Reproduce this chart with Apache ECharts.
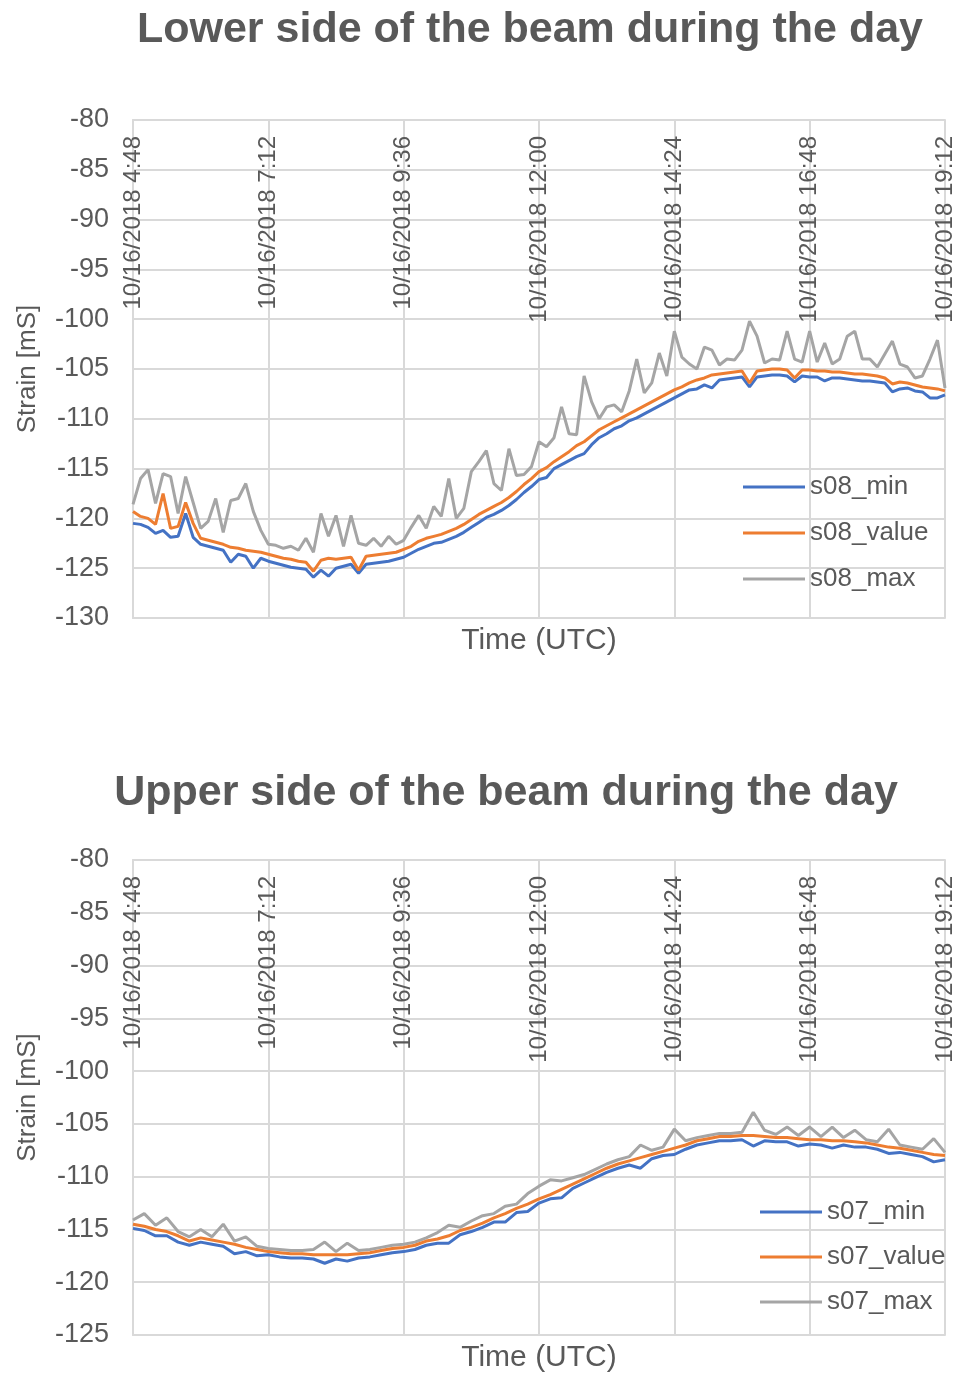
<!DOCTYPE html>
<html>
<head>
<meta charset="utf-8">
<script src="https://cdn.jsdelivr.net/npm/echarts@6/dist/echarts.min.js"></script>
<style>
  html, body { margin: 0; padding: 0; background: #ffffff; }
  #chart { width: 959px; height: 1374px; }
</style>
</head>
<body>
<div id="chart"></div>
<script>
// Strain readings on 10/16/2018, minutes after midnight (UTC)
const START_MIN = 288;   // 4:48
const END_MIN = 1152;    // 19:12
const TICK_STEP = 144;   // 2:24

// Lower side of the beam (sensor s08), 8-minute samples
const s08Step = 8;
const s08_min = [
  -120.5, -120.6, -120.9, -121.5, -121.2, -121.9, -121.8, -119.5, -121.9, -122.6,
  -122.8, -123.0, -123.2, -124.4, -123.6, -123.8, -125.0, -124.0, -124.3, -124.5,
  -124.7, -124.9, -125.0, -125.1, -125.9, -125.2, -125.8, -125.0, -124.8, -124.6,
  -125.5, -124.6, -124.5, -124.4, -124.3, -124.1, -123.9, -123.5, -123.1, -122.8,
  -122.5, -122.4, -122.1, -121.8, -121.4, -120.9, -120.4, -119.9, -119.6, -119.2,
  -118.7, -118.1, -117.4, -116.8, -116.1, -115.9, -115.0, -114.6, -114.2, -113.8,
  -113.5, -112.6, -111.9, -111.5, -111.0, -110.7, -110.2, -109.9, -109.5, -109.1,
  -108.7, -108.3, -107.9, -107.5, -107.1, -107.0, -106.6, -106.9, -106.1, -106.0,
  -105.9, -105.8, -106.8, -105.8, -105.7, -105.6, -105.6, -105.7, -106.3, -105.7,
  -105.8, -105.8, -106.2, -105.9, -105.9, -106.0, -106.1, -106.2, -106.2, -106.3,
  -106.4, -107.3, -107.0, -106.9, -107.2, -107.3, -107.9, -107.9, -107.6
];
const s08_value = [
  -119.3, -119.8, -120.0, -120.6, -117.5, -121.0, -120.8, -118.4, -120.5, -122.0,
  -122.2, -122.4, -122.6, -122.9, -123.0, -123.2, -123.3, -123.4, -123.6, -123.8,
  -124.0, -124.1, -124.3, -124.4, -125.3, -124.2, -124.0, -124.1, -124.0, -123.9,
  -125.2, -123.8, -123.7, -123.6, -123.5, -123.4, -123.1, -122.8, -122.3, -122.0,
  -121.8, -121.6, -121.3, -121.0, -120.6, -120.1, -119.6, -119.2, -118.8, -118.4,
  -117.9, -117.3, -116.6, -116.0, -115.3, -114.9, -114.3, -113.8, -113.3, -112.7,
  -112.3, -111.7, -111.1, -110.7, -110.3, -109.9, -109.5, -109.1, -108.7, -108.3,
  -107.9, -107.5, -107.1, -106.8, -106.4, -106.1, -105.9, -105.6, -105.5, -105.4,
  -105.3, -105.2, -106.4, -105.2, -105.1, -105.0, -105.0, -105.1, -105.9, -105.1,
  -105.1, -105.2, -105.2, -105.3, -105.3, -105.4, -105.5, -105.5, -105.6, -105.7,
  -105.9, -106.5, -106.3, -106.4, -106.6, -106.8, -106.9, -107.0, -107.2
];
const s08_max = [
  -118.6, -116.0, -115.1, -118.5, -115.5, -115.8, -119.5, -115.8, -118.4, -121.0,
  -120.3, -118.0, -121.4, -118.2, -118.0, -116.5, -119.3, -121.2, -122.6, -122.7,
  -123.0, -122.8, -123.2, -122.0, -123.4, -119.5, -121.8, -119.7, -122.8, -119.7,
  -122.5, -122.7, -122.0, -122.8, -121.8, -122.6, -122.2, -120.9, -119.7, -121.0,
  -118.8, -119.8, -116.0, -120.0, -119.0, -115.3, -114.3, -113.2, -116.5, -117.2,
  -113.0, -115.7, -115.6, -114.8, -112.3, -112.8, -111.9, -108.8, -111.5, -111.6,
  -105.7, -108.3, -110.0, -108.8, -108.6, -109.3, -107.2, -104.0, -107.4, -106.4,
  -103.4, -105.7, -101.2, -103.8, -104.5, -105.0, -102.8, -103.1, -104.6, -104.0,
  -104.1, -103.1, -100.2, -101.7, -104.4, -104.0, -104.1, -101.2, -104.0, -104.3,
  -101.2, -104.3, -102.4, -104.5, -104.0, -101.7, -101.2, -104.0, -104.0, -104.8,
  -103.5, -102.2, -104.5, -104.8, -105.9, -105.7, -104.0, -102.1, -106.9
];

// Upper side of the beam (sensor s07), 12-minute samples
const s07Step = 12;
const s07_min = [
  -114.9, -115.1, -115.6, -115.6, -116.2, -116.5, -116.2, -116.4, -116.6, -117.3,
  -117.1, -117.5, -117.4, -117.6, -117.7, -117.7, -117.8, -118.2, -117.8, -118.0,
  -117.7, -117.6, -117.4, -117.2, -117.1, -116.9, -116.5, -116.3, -116.3, -115.5,
  -115.2, -114.8, -114.3, -114.3, -113.4, -113.3, -112.5, -112.1, -112.0, -111.1,
  -110.6, -110.1, -109.6, -109.2, -108.9, -109.2, -108.3, -108.0, -107.9, -107.4,
  -107.0, -106.8, -106.6, -106.6, -106.5, -107.1, -106.6, -106.7, -106.7, -107.1,
  -106.9, -107.0, -107.3, -107.0, -107.2, -107.2, -107.4, -107.8, -107.7, -107.9,
  -108.1, -108.6, -108.4
];
const s07_value = [
  -114.5, -114.7, -115.0, -115.2, -115.6, -116.1, -115.8, -116.0, -116.2, -116.4,
  -116.7, -116.9, -117.1, -117.2, -117.3, -117.3, -117.4, -117.4, -117.4, -117.4,
  -117.3, -117.2, -117.0, -116.8, -116.7, -116.5, -116.1, -115.9, -115.6, -115.1,
  -114.8, -114.4, -113.9, -113.5, -113.0, -112.6, -112.1, -111.7, -111.2, -110.7,
  -110.2, -109.7, -109.2, -108.8, -108.5, -108.2, -107.9, -107.6, -107.3, -107.0,
  -106.6, -106.4, -106.2, -106.2, -106.1, -106.1, -106.2, -106.3, -106.3, -106.4,
  -106.5, -106.5, -106.6, -106.6, -106.7, -106.8, -107.0, -107.2, -107.3, -107.5,
  -107.7, -107.9, -108.0
];
const s07_max = [
  -114.1, -113.5, -114.6, -113.9, -115.2, -115.7, -115.0, -115.7, -114.5, -116.1,
  -115.7, -116.6, -116.8, -116.9, -117.0, -117.0, -116.9, -116.2, -117.1, -116.3,
  -117.0, -116.9, -116.7, -116.5, -116.4, -116.2, -115.8, -115.3, -114.6, -114.8,
  -114.2, -113.7, -113.5, -112.8, -112.6, -111.6, -110.9, -110.3, -110.4, -110.1,
  -109.8, -109.3, -108.8, -108.4, -108.1, -107.0, -107.5, -107.2, -105.5, -106.6,
  -106.3, -106.1, -105.9, -105.9, -105.8, -103.9, -105.6, -106.0, -105.3, -106.1,
  -105.3, -106.2, -105.3, -106.3, -105.6, -106.5, -106.7, -105.5, -107.0, -107.2,
  -107.4, -106.4, -107.7
];

const COLORS = { min: '#4472C4', value: '#ED7D31', max: '#A5A5A5' };
const TEXT = '#595959';
const GRID_LINE = '#D9D9D9';
const FONT = '"Liberation Sans", Arial, sans-serif';

function pairs(step, values) {
  return values.map((v, i) => [START_MIN + i * step, v]);
}
function timeLabel(m) {
  const h = Math.floor(m / 60);
  const mm = String(m % 60).padStart(2, '0');
  return '10/16/2018 ' + h + ':' + mm;
}

function topXAxis(gridIndex) {
  return {
    gridIndex, type: 'value', position: 'top',
    min: START_MIN, max: END_MIN, interval: TICK_STEP,
    axisLine: { show: true, lineStyle: { color: GRID_LINE, width: 2 } },
    axisTick: { show: false },
    axisLabel: {
      inside: true, rotate: -90, margin: 16, color: TEXT, fontSize: 24, fontFamily: FONT,
      showMinLabel: true, showMaxLabel: true, formatter: timeLabel
    },
    splitLine: { show: true, lineStyle: { color: GRID_LINE, width: 2 } }
  };
}
function bottomXAxis(gridIndex) {
  return {
    gridIndex, type: 'value', position: 'bottom',
    min: START_MIN, max: END_MIN, interval: TICK_STEP,
    name: 'Time (UTC)', nameLocation: 'middle', nameGap: 8,
    nameTextStyle: { color: TEXT, fontSize: 30, fontFamily: FONT },
    axisLine: { show: true, lineStyle: { color: GRID_LINE, width: 2 } },
    axisTick: { show: false }, axisLabel: { show: false }, splitLine: { show: false }
  };
}
function leftYAxis(gridIndex, min) {
  return {
    gridIndex, type: 'value', min, max: -80, interval: 5,
    name: 'Strain [mS]', nameLocation: 'middle', nameGap: 92,
    nameTextStyle: { color: TEXT, fontSize: 26, fontFamily: FONT },
    axisLine: { show: true, lineStyle: { color: GRID_LINE, width: 2 } },
    axisTick: { show: false },
    axisLabel: { color: TEXT, fontSize: 27, fontFamily: FONT, margin: 24 },
    splitLine: { show: true, lineStyle: { color: GRID_LINE, width: 2 } }
  };
}
function lineSeries(name, key, axisIndex, data, z) {
  return {
    name, type: 'line', xAxisIndex: axisIndex * 2, yAxisIndex: axisIndex,
    data, showSymbol: false, symbol: 'none', z,
    lineStyle: { color: COLORS[key], width: 3 },
    itemStyle: { color: COLORS[key] }, animation: false
  };
}
function legendBox(left, top, names, gap) {
  return {
    orient: 'vertical', left, top, data: names, icon: 'rect', itemWidth: 62, itemHeight: 3,
    itemGap: gap, selectedMode: false,
    textStyle: { color: TEXT, fontSize: 26, fontFamily: FONT, lineHeight: 30 }
  };
}

const chart = echarts.init(document.getElementById('chart'), null, { renderer: 'canvas' });
chart.setOption({
  backgroundColor: '#ffffff',
  animation: false,
  title: [
    { text: 'Lower side of the beam during the day', left: 525, top: 4, textAlign: 'center',
      textStyle: { color: TEXT, fontSize: 43, fontWeight: 'bold', fontFamily: FONT } },
    { text: 'Upper side of the beam during the day', left: 501, top: 767, textAlign: 'center',
      textStyle: { color: TEXT, fontSize: 43, fontWeight: 'bold', fontFamily: FONT } }
  ],
  legend: [
    legendBox(738, 467, ['s08_min', 's08_value', 's08_max'], 16),
    legendBox(755, 1192, ['s07_min', 's07_value', 's07_max'], 15)
  ],
  grid: [
    { left: 133, width: 812, top: 120, height: 498 },
    { left: 133, width: 812, top: 860, height: 476 }
  ],
  xAxis: [topXAxis(0), bottomXAxis(0), topXAxis(1), bottomXAxis(1)],
  yAxis: [leftYAxis(0, -130), leftYAxis(1, -125)],
  series: [
    lineSeries('s08_min', 'min', 0, pairs(s08Step, s08_min), 2),
    lineSeries('s08_value', 'value', 0, pairs(s08Step, s08_value), 4),
    lineSeries('s08_max', 'max', 0, pairs(s08Step, s08_max), 3),
    lineSeries('s07_min', 'min', 1, pairs(s07Step, s07_min), 2),
    lineSeries('s07_value', 'value', 1, pairs(s07Step, s07_value), 4),
    lineSeries('s07_max', 'max', 1, pairs(s07Step, s07_max), 3)
  ]
});
</script>
</body>
</html>
